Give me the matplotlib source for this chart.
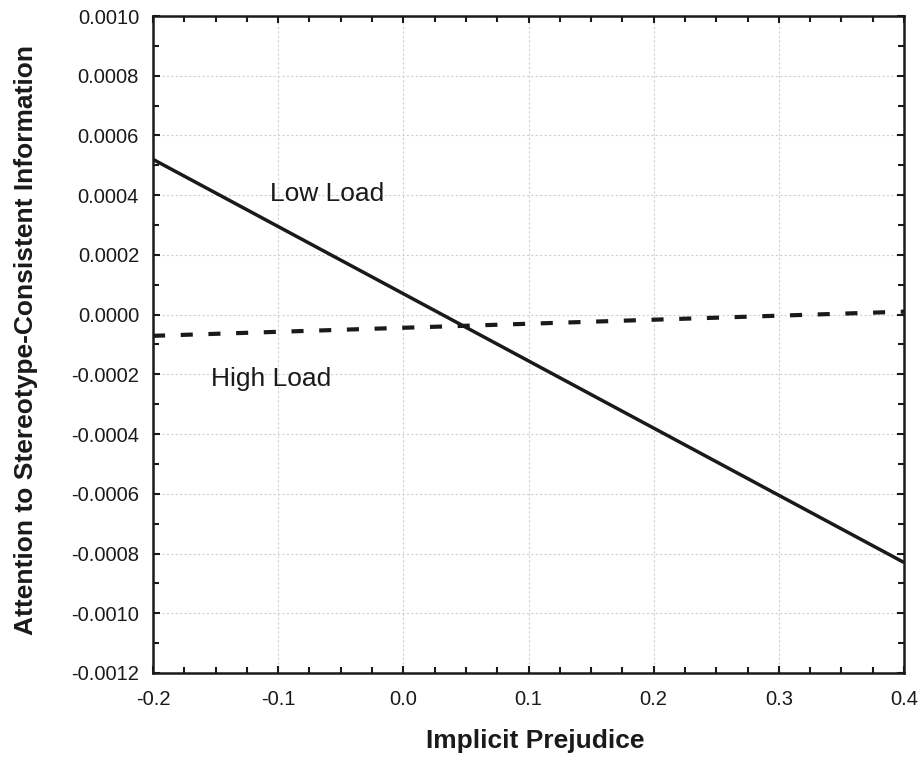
import numpy as np
import matplotlib
matplotlib.use("Agg")
import matplotlib.pyplot as plt
from matplotlib.ticker import MultipleLocator, FuncFormatter

# valeurs
x_ends = [-0.2, 0.4]
low_load = [0.00052, -0.00083]
high_load = [-0.000071, 0.000010]

plt.rcParams['font.family'] = ['Liberation Sans', 'DejaVu Sans']

fig = plt.figure(figsize=(9.19, 7.63), dpi=100)
ax = fig.add_axes([0.1665, 0.118, 0.8172, 0.861])

ax.plot(x_ends, low_load, color='#1a1a1a', lw=2.5, solid_capstyle='butt')
ax.plot(x_ends, high_load, color='#1a1a1a', lw=3.0, dashes=(2.9, 3.75))

ax.text(-0.1065, 0.000379, 'Low Load', fontsize=19, va='baseline', ha='left',
        color='#1a1a1a')
ax.text(-0.1538, -0.000238, 'High Load', fontsize=19, va='baseline', ha='left',
        color='#1a1a1a')

ax.set_xlim(-0.2, 0.4)
ax.set_ylim(-0.0012, 0.0010)
ax.xaxis.set_major_locator(MultipleLocator(0.1))
ax.xaxis.set_minor_locator(MultipleLocator(0.025))
ax.yaxis.set_major_locator(MultipleLocator(0.0002))
ax.yaxis.set_minor_locator(MultipleLocator(0.0001))
ax.xaxis.set_major_formatter(FuncFormatter(lambda v, p: '%.1f' % (0.0 if abs(v) < 1e-9 else v)))
ax.yaxis.set_major_formatter(FuncFormatter(lambda v, p: '%.4f' % (0.0 if abs(v) < 1e-9 else v)))

ax.grid(True, which='major', color='#d0d0d0', ls=(0, (2, 2)), lw=0.8)
ax.tick_params(which='both', direction='in', top=True, right=True,
               color='#1a1a1a', labelsize=14.5, width=1.5, labelcolor='#1a1a1a')
ax.tick_params(which='major', length=5)
ax.tick_params(axis='x', which='major', pad=12)
ax.tick_params(axis='y', which='major', pad=10)
ax.tick_params(which='minor', length=4)
for s in ax.spines.values():
    s.set_linewidth(1.8)
    s.set_color('#1a1a1a')

ax.set_xlabel('Implicit Prejudice', fontsize=19, fontweight='bold',
              va='center', ha='center', color='#1a1a1a')
ax.xaxis.set_label_coords(0.5087, -0.1035)
ax.set_ylabel('Attention to Stereotype-Consistent Information', fontsize=19,
              fontweight='bold', va='center', ha='center', color='#1a1a1a')
ax.yaxis.set_label_coords(-0.169, 0.507)

fig.savefig('out.png', dpi=100)
